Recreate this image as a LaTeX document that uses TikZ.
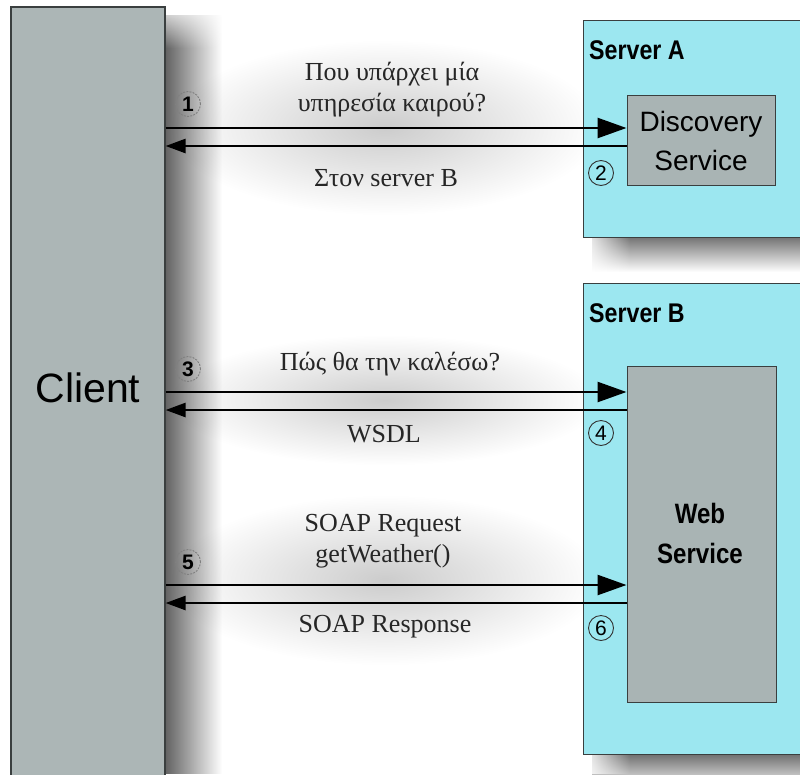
\documentclass[tikz,border=0pt]{standalone}
\usepackage{fontspec}
\setmainfont{Liberation Serif}
\setsansfont{Liberation Sans}
\newfontfamily\narrowsans[FakeStretch=0.86]{Liberation Sans}
\usetikzlibrary{arrows.meta,fadings}

\definecolor{clientgray}{HTML}{ACB6B6}
\definecolor{servicegray}{HTML}{A9B4B4}
\definecolor{servercyan}{HTML}{9CE7F0}
\definecolor{edgegray}{HTML}{3A3F3F}

% fadings for the soft shadows
\tikzfading[name=fadeout right, left color=transparent!0, right color=transparent!100]
\tikzfading[name=fadeout down, top color=transparent!0, bottom color=transparent!100]
\tikzfading[name=softspot, inner color=transparent!0, outer color=transparent!100]

\tikzset{
  clientbox/.style={draw=edgegray, line width=1.2pt, fill=clientgray, inner sep=0pt},
  serverbox/.style={draw=edgegray, line width=1pt, fill=servercyan, inner sep=0pt},
  servicebox/.style={draw=edgegray, line width=1pt, fill=servicegray, inner sep=0pt},
  sideshadow/.style={fill=black, opacity=0.62, path fading=fadeout right},
  lowshadow/.style={fill=black, opacity=0.55, path fading=fadeout down},
  haze/.style={fill=black, opacity=0.2, path fading=softspot},
  msg/.style={font=\fontsize{26}{31}\selectfont, text=black!85, align=center, inner sep=0pt},
  srvlabel/.style={font=\narrowsans\bfseries\fontsize{27}{30}\selectfont, anchor=west, inner sep=0pt},
  svclabel/.style={align=center, inner sep=0pt},
  request/.style={line width=2.6pt, -{Triangle[length=29pt,width=20pt]}},
  reply/.style={line width=2.6pt, -{Triangle[length=20pt,width=14pt]}},
  stepout/.style={circle, draw=gray, dash pattern=on 2pt off 1.2pt, line width=0.9pt,
      minimum size=25pt, inner sep=0pt, font=\sffamily\bfseries\fontsize{21}{21}\selectfont},
  stepin/.style={circle, draw=black!80, line width=0.9pt,
      minimum size=25pt, inner sep=0pt, font=\sffamily\fontsize{21}{21}\selectfont},
}

\begin{document}
\begin{tikzpicture}[x=1pt, y=-1pt]
  \useasboundingbox (0,0) rectangle (800,774);
  \clip (0,0) rectangle (800,774);
  \fill[white] (0,0) rectangle (800,774);

  % soft grey haze behind each message exchange
  \path[haze] (170,40) rectangle (600,215);
  \path[haze] (170,335) rectangle (600,465);
  \path[haze] (170,495) rectangle (600,665);

  % shadow along the client column
  \path[sideshadow] (165,14) rectangle (222,774);
  \fill[white, path fading=fadeout down] (160,0) rectangle (225,48);

  % shadows under the servers
  \path[lowshadow] (592,237) rectangle (800,272);
  \fill[white, path fading=fadeout right] (583,236) rectangle (630,274);
  \path[lowshadow] (592,755) rectangle (800,790);
  \fill[white, path fading=fadeout right] (583,754) rectangle (630,774);

  % client column
  \node[clientbox, minimum width=154pt, minimum height=793pt] (client) at (88,403.5) {};
  \node[font=\sffamily\fontsize{41}{41}\selectfont, inner sep=0pt] (clientlbl) at (88,388) {Client};

  % server A with its discovery service
  \node[serverbox, minimum width=237pt, minimum height=217pt] (srvA) at (701.5,128.5) {};
  \node[srvlabel] (srvAlbl) at (589,50) {Server A};
  \node[servicebox, minimum width=148pt, minimum height=90pt] (disc) at (701,140) {};
  \node[svclabel, font=\sffamily\fontsize{28}{39}\selectfont] (disclbl) at (701,141) {Discovery\\Service};

  % server B with its web service
  \node[serverbox, minimum width=237pt, minimum height=471pt] (srvB) at (701.5,518.5) {};
  \node[srvlabel] (srvBlbl) at (589,313) {Server B};
  \node[servicebox, minimum width=149pt, minimum height=336pt] (ws) at (701.5,534) {};
  \node[svclabel, font=\narrowsans\bfseries\fontsize{28}{40}\selectfont] (wslbl) at (700,533) {Web\\Service};

  % message levels
  \coordinate (q1) at (0,128);
  \coordinate (a1) at (0,146);
  \coordinate (q2) at (0,392);
  \coordinate (a2) at (0,410);
  \coordinate (q3) at (0,585);
  \coordinate (a3) at (0,603);

  % discovery
  \draw[request] (client.east |- q1) -- (disc.west |- q1);
  \draw[reply] (disc.west |- a1) -- (client.east |- a1);
  \node[stepout] (s1) at (188,104) {1};
  \node[stepin] (s2) at (601,173) {2};
  \node[msg] (m1) at (392,90) {Που υπάρχει μία\\υπηρεσία καιρού?};
  \node[msg] (m2) at (386,178) {Στον server B};

  % description
  \draw[request] (client.east |- q2) -- (ws.west |- q2);
  \draw[reply] (ws.west |- a2) -- (client.east |- a2);
  \node[stepout] (s3) at (188,369) {3};
  \node[stepin] (s4) at (601,433) {4};
  \node[msg] (m3) at (390,364) {Πώς θα την καλέσω?};
  \node[msg] (m4) at (384,434) {WSDL};

  % invocation
  \draw[request] (client.east |- q3) -- (ws.west |- q3);
  \draw[reply] (ws.west |- a3) -- (client.east |- a3);
  \node[stepout] (s5) at (188,562) {5};
  \node[stepin] (s6) at (601,628) {6};
  \node[msg] (m5) at (383,541) {SOAP Request\\getWeather()};
  \node[msg] (m6) at (385,627) {SOAP Response};
\end{tikzpicture}
\end{document}
